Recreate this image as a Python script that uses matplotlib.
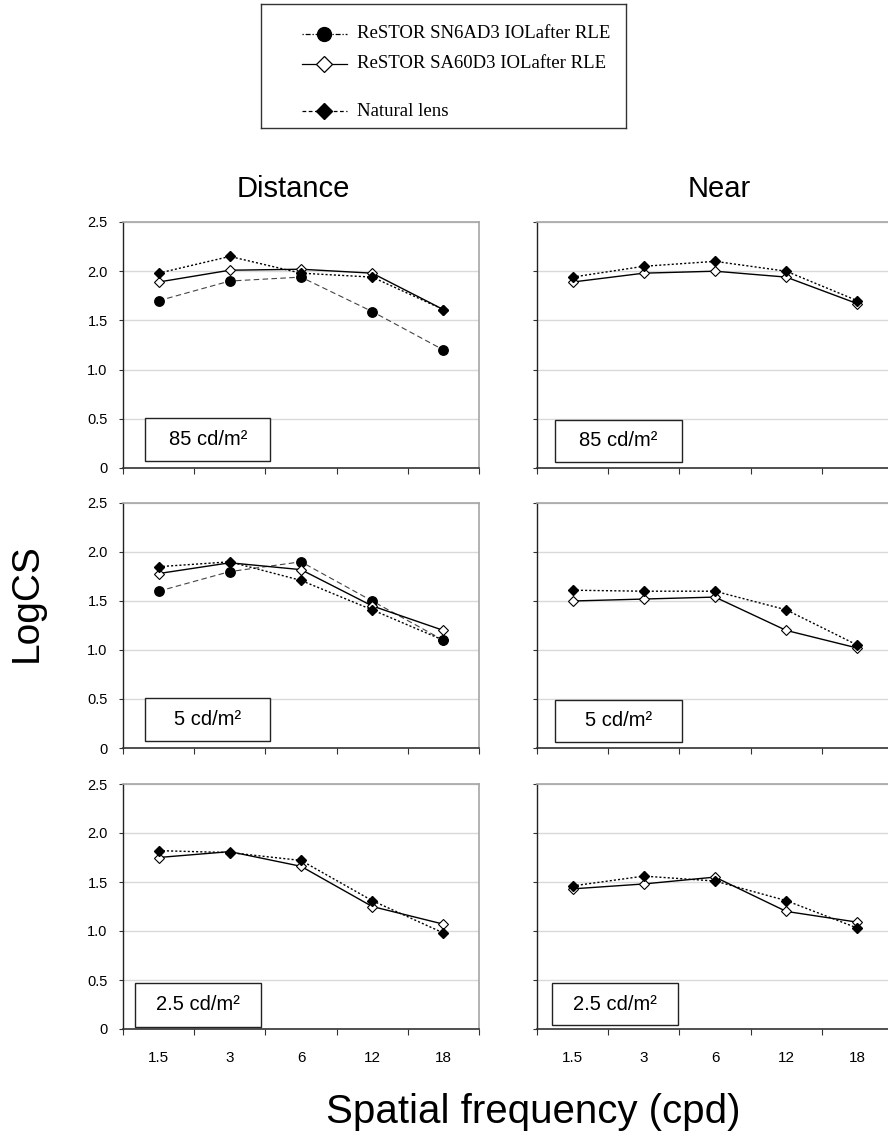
import matplotlib
matplotlib.use("Agg")
import matplotlib.pyplot as plt
from matplotlib.patches import Rectangle
from matplotlib.lines import Line2D

plt.rcParams["font.family"] = ["Liberation Sans", "DejaVu Sans"]

# ==================== DATA ====================
freqs = ["1.5", "3", "6", "12", "18"]

# Distance (circles = SN6AD3, open diamonds = SA60D3, filled diamonds = natural lens)
dist_85_sn6 = [1.70, 1.90, 1.94, 1.59, 1.20]
dist_85_sa60 = [1.89, 2.01, 2.02, 1.98, 1.61]
dist_85_nat = [1.98, 2.15, 1.98, 1.94, 1.61]

dist_5_sn6 = [1.60, 1.80, 1.90, 1.50, 1.10]
dist_5_sa60 = [1.78, 1.89, 1.82, 1.45, 1.20]
dist_5_nat = [1.85, 1.90, 1.71, 1.41, 1.10]

dist_25_sa60 = [1.75, 1.81, 1.66, 1.25, 1.07]
dist_25_nat = [1.82, 1.80, 1.72, 1.31, 0.98]

# Near
near_85_sa60 = [1.89, 1.98, 2.00, 1.94, 1.67]
near_85_nat = [1.94, 2.05, 2.10, 2.00, 1.70]

near_5_sa60 = [1.50, 1.52, 1.54, 1.20, 1.02]
near_5_nat = [1.61, 1.60, 1.60, 1.41, 1.05]

near_25_sa60 = [1.43, 1.48, 1.55, 1.20, 1.09]
near_25_nat = [1.46, 1.56, 1.51, 1.31, 1.03]

luminance_labels = ["85 cd/m\u00b2", "5 cd/m\u00b2", "2.5 cd/m\u00b2"]
y_ticks = [0, 0.5, 1.0, 1.5, 2.0, 2.5]
y_ticklabels = ["0", "0.5", "1.0", "1.5", "2.0", "2.5"]

legend_labels = ["ReSTOR SN6AD3 IOLafter RLE",
                 "ReSTOR SA60D3 IOLafter RLE",
                 "Natural lens"]

# ==================== STYLES ====================
style_sn6 = dict(color="#444444", linestyle=(0, (5, 3)), linewidth=0.8,
                 marker="o", markersize=6.8, markerfacecolor="black",
                 markeredgecolor="black")
style_sa60 = dict(color="black", linestyle="-", linewidth=1.0,
                  marker="D", markersize=5.3, markerfacecolor="white",
                  markeredgecolor="black", markeredgewidth=0.8)
style_nat = dict(color="black", linestyle=(0, (1.5, 1.5)), linewidth=1.0,
                 marker="D", markersize=5.3, markerfacecolor="black",
                 markeredgecolor="black")

# panel layout in pixels (888 x 1135 figure)
W, H = 888, 1135
col_x = [123, 537]
ax_w = 356
row_top = [222, 503, 784]
ax_h = [246, 245, 245]

# label box extents in axes fraction: (x0, x1, y0, y1)
boxes = {
    (0, 0): (0.062, 0.414, 0.028, 0.203),
    (1, 0): (0.062, 0.414, 0.028, 0.203),
    (2, 0): (0.034, 0.389, 0.010, 0.186),
    (0, 1): (0.051, 0.407, 0.026, 0.196),
    (1, 1): (0.051, 0.407, 0.026, 0.196),
    (2, 1): (0.042, 0.396, 0.016, 0.188),
}

panels = {
    (0, 0): [dist_85_sn6, dist_85_sa60, dist_85_nat],
    (1, 0): [dist_5_sn6, dist_5_sa60, dist_5_nat],
    (2, 0): [None, dist_25_sa60, dist_25_nat],
    (0, 1): [None, near_85_sa60, near_85_nat],
    (1, 1): [None, near_5_sa60, near_5_nat],
    (2, 1): [None, near_25_sa60, near_25_nat],
}

fig = plt.figure(figsize=(W / 100, H / 100), dpi=100)

x = list(range(len(freqs)))

for (r, c), series in panels.items():
    top = row_top[r]
    h = ax_h[r]
    ax = fig.add_axes([col_x[c] / W, 1 - (top + h) / H, ax_w / W, h / H])

    for vals, st in zip(series, [style_sn6, style_sa60, style_nat]):
        if vals is not None:
            ax.plot(x, vals, clip_on=False, **st)

    ax.set_xlim(-0.5, len(freqs) - 0.5)
    ax.set_ylim(0, 2.5)

    # category boundaries as major ticks, labels at centres
    ax.set_xticks([i - 0.5 for i in range(len(freqs) + 1)])
    ax.set_xticklabels([])
    ax.set_xticks(x, minor=True)
    if r == 2:
        ax.set_xticklabels(freqs, minor=True, fontsize=11)
    else:
        ax.set_xticklabels([], minor=True)
    ax.tick_params(axis="x", which="major", direction="out", length=4,
                   width=0.8, color="#333333")
    ax.tick_params(axis="x", which="minor", length=0, pad=16)

    ax.set_yticks(y_ticks)
    if c == 0:
        ax.set_yticklabels(y_ticklabels, fontsize=10.5)
    else:
        ax.set_yticklabels([])
    ax.tick_params(axis="y", direction="out", length=3, width=0.8,
                   color="#333333", pad=8)

    ax.grid(True, axis="y", color="#d9d9d9", linewidth=1.0)
    ax.set_axisbelow(True)

    ax.spines["left"].set_color("#222222")
    ax.spines["bottom"].set_color("#333333")
    ax.spines["left"].set_linewidth(1.0)
    ax.spines["bottom"].set_linewidth(1.2)
    for s in ["top", "right"]:
        ax.spines[s].set_color("#a6a6a6")
        ax.spines[s].set_linewidth(1.2)

    x0, x1, y0, y1 = boxes[(r, c)]
    ax.add_patch(Rectangle((x0, y0), x1 - x0, y1 - y0, transform=ax.transAxes,
                           facecolor="white", edgecolor="#222222",
                           linewidth=1.0, zorder=5))
    ax.text((x0 + x1) / 2, (y0 + y1) / 2, luminance_labels[r],
            transform=ax.transAxes, ha="center", va="center",
            fontsize=14.5, zorder=6)

# column titles
fig.text(293 / W, 1 - 197 / H, "Distance", ha="center", va="baseline", fontsize=21)
fig.text(719 / W, 1 - 197 / H, "Near", ha="center", va="baseline", fontsize=21)

# axis labels
fig.text(27 / W, 1 - 603 / H, "LogCS", rotation=90, ha="center", va="center",
         fontsize=28)
fig.text(533 / W, 1 - 1123 / H, "Spatial frequency (cpd)", ha="center",
         va="baseline", fontsize=29)

# ==================== LEGEND ====================
lg = fig.add_axes([261 / W, 1 - 128 / H, (626 - 261) / W, 124 / H])
lg.set_xlim(0, 365)
lg.set_ylim(124, 0)
lg.set_xticks([])
lg.set_yticks([])
for s in lg.spines.values():
    s.set_color("#333333")
    s.set_linewidth(1.0)

legend_rows = [30, 60, 107]
legend_styles = [
    dict(color="black", linestyle=(0, (1, 1.5, 4, 1.5)), linewidth=0.9,
         marker="o", markersize=10, markerfacecolor="black"),
    dict(color="black", linestyle="-", linewidth=0.9, marker="D",
         markersize=8, markerfacecolor="white", markeredgecolor="black",
         markeredgewidth=0.9),
    dict(color="black", linestyle=(0, (3, 2)), linewidth=0.9, marker="D",
         markersize=8, markerfacecolor="black"),
]
for yy, st, lab in zip(legend_rows, legend_styles, legend_labels):
    lg.add_line(Line2D([41, 63, 86], [yy, yy, yy], markevery=[1], **st))
    lg.text(96, yy, lab, ha="left", va="center", fontsize=13.5,
            family=["Liberation Serif", "DejaVu Serif"])

fig.savefig("out.png", dpi=100)
